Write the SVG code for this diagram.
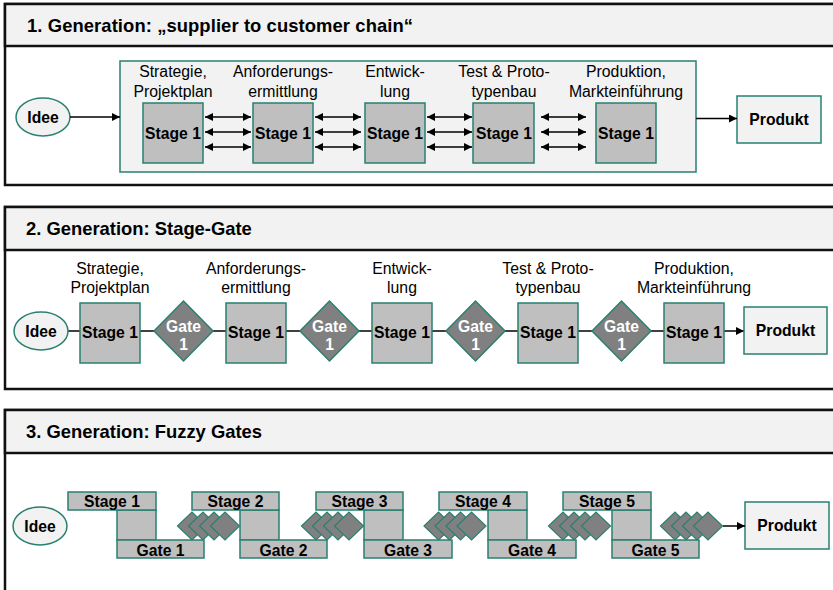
<svg xmlns="http://www.w3.org/2000/svg" width="833" height="590" viewBox="0 0 833 590">
  <defs>
    <marker id="head" viewBox="0 0 10 10" refX="10" refY="5" markerWidth="9" markerHeight="8" markerUnits="userSpaceOnUse" orient="auto-start-reverse">
      <path d="M0,0 L10,5 L0,10 Z" fill="#000"/>
    </marker>
    <path id="fdia" d="M-14.5,0 L0,-14 L14.5,0 L0,14 Z" class="fdiamond"/>
  </defs>
  <style>
    text { font-family: "Liberation Sans", Arial, sans-serif; fill: #000; }
    .title { font-size: 18.4px; font-weight: bold; }
    .lbl { font-size: 15.8px; text-anchor: middle; }
    .b { font-size: 15.7px; font-weight: bold; text-anchor: middle; }
    .gw { font-size: 15.7px; font-weight: bold; text-anchor: middle; fill: #fff; }
    .frame { fill: #fff; stroke: #111; stroke-width: 2.5; }
    .head { fill: #f2f2f2; stroke: #111; stroke-width: 2.5; }
    .stage { fill: #bfbfbf; stroke: #2a8070; stroke-width: 1.5; }
    .pale { fill: #f2f2f2; stroke: #2a8070; stroke-width: 1.5; }
    .diamond { fill: #808080; stroke: #2a8070; stroke-width: 1.5; }
    .fdiamond { fill: #808080; stroke: #2a8070; stroke-width: 1.2; }
    .arrow { stroke: #000; stroke-width: 1.5; fill: none; }
    .link { stroke: #404040; stroke-width: 2; fill: none; }
  </style>

  <!-- ===== Panel 1: supplier to customer chain ===== -->
  <g id="panel1">
    <rect class="frame" x="5" y="4" width="840" height="181"/>
    <rect class="head" x="5" y="4" width="840" height="42"/>
    <text class="title" x="27" y="32" textLength="386" lengthAdjust="spacing">1. Generation: „supplier to customer chain“</text>
  </g>
  <g id="p1-chain">
    <rect class="pale" x="120" y="61" width="576" height="111"/>
  </g>
  <g id="p1-idee">
    <ellipse class="pale" cx="43" cy="117" rx="27" ry="19"/>
    <text class="b" x="43" y="122.5">Idee</text>
  </g>
  <g id="p1-stage1">
    <text class="lbl" x="173" y="77">Strategie,</text>
    <text class="lbl" x="173" y="97">Projektplan</text>
    <rect class="stage" x="143" y="103" width="60" height="60"/>
    <text class="b" x="173" y="139">Stage 1</text>
  </g>
  <g id="p1-stage2">
    <text class="lbl" x="283" y="77">Anforderungs-</text>
    <text class="lbl" x="283" y="97">ermittlung</text>
    <rect class="stage" x="253" y="103" width="60" height="60"/>
    <text class="b" x="283" y="139">Stage 1</text>
  </g>
  <g id="p1-stage3">
    <text class="lbl" x="395" y="77">Entwick-</text>
    <text class="lbl" x="395" y="97">lung</text>
    <rect class="stage" x="365" y="103" width="60" height="60"/>
    <text class="b" x="395" y="139">Stage 1</text>
  </g>
  <g id="p1-stage4">
    <text class="lbl" x="504" y="77">Test &amp; Proto-</text>
    <text class="lbl" x="504" y="97">typenbau</text>
    <rect class="stage" x="473" y="103" width="61" height="60"/>
    <text class="b" x="504" y="139">Stage 1</text>
  </g>
  <g id="p1-stage5">
    <text class="lbl" x="626" y="77">Produktion,</text>
    <text class="lbl" x="626" y="97">Markteinführung</text>
    <rect class="stage" x="596" y="103" width="60" height="60"/>
    <text class="b" x="626" y="139">Stage 1</text>
  </g>
  <g id="p1-produkt">
    <rect class="pale" x="737" y="96" width="84" height="47"/>
    <text class="b" x="779" y="125">Produkt</text>
  </g>
  <g id="p1-connectors">
    <line class="arrow" x1="70" y1="117" x2="120" y2="117" marker-end="url(#head)"/>
    <line class="arrow" x1="696" y1="118.5" x2="737" y2="118.5" marker-end="url(#head)"/>
    <!-- two-way exchange between neighbouring stages -->
    <g marker-start="url(#head)" marker-end="url(#head)">
      <line class="arrow" x1="205" y1="117" x2="251" y2="117" marker-start="url(#head)" marker-end="url(#head)"/>
      <line class="arrow" x1="205" y1="132" x2="251" y2="132" marker-start="url(#head)" marker-end="url(#head)"/>
      <line class="arrow" x1="205" y1="147" x2="251" y2="147" marker-start="url(#head)" marker-end="url(#head)"/>
      <line class="arrow" x1="315" y1="117" x2="361" y2="117" marker-start="url(#head)" marker-end="url(#head)"/>
      <line class="arrow" x1="315" y1="132" x2="361" y2="132" marker-start="url(#head)" marker-end="url(#head)"/>
      <line class="arrow" x1="315" y1="147" x2="361" y2="147" marker-start="url(#head)" marker-end="url(#head)"/>
      <line class="arrow" x1="427" y1="117" x2="472" y2="117" marker-start="url(#head)" marker-end="url(#head)"/>
      <line class="arrow" x1="427" y1="132" x2="472" y2="132" marker-start="url(#head)" marker-end="url(#head)"/>
      <line class="arrow" x1="427" y1="147" x2="472" y2="147" marker-start="url(#head)" marker-end="url(#head)"/>
      <line class="arrow" x1="541" y1="117" x2="586" y2="117" marker-start="url(#head)" marker-end="url(#head)"/>
      <line class="arrow" x1="541" y1="132" x2="586" y2="132" marker-start="url(#head)" marker-end="url(#head)"/>
      <line class="arrow" x1="541" y1="147" x2="586" y2="147" marker-start="url(#head)" marker-end="url(#head)"/>
    </g>
  </g>

  <!-- ===== Panel 2: Stage-Gate ===== -->
  <g id="panel2">
    <rect class="frame" x="5" y="207" width="840" height="182"/>
    <rect class="head" x="5" y="207" width="840" height="43"/>
    <text class="title" x="26" y="235">2. Generation: Stage-Gate</text>
  </g>
  <g id="p2-connectors">
    <line class="link" x1="68" y1="331" x2="724" y2="331"/>
    <line class="arrow" x1="724" y1="331" x2="744" y2="331" marker-end="url(#head)"/>
  </g>
  <g id="p2-idee">
    <ellipse class="pale" cx="41" cy="331" rx="27" ry="19"/>
    <text class="b" x="41" y="336.5">Idee</text>
  </g>
  <g id="p2-stage1">
    <text class="lbl" x="110" y="274">Strategie,</text>
    <text class="lbl" x="110" y="293">Projektplan</text>
    <rect class="stage" x="80" y="303" width="60" height="60"/>
    <text class="b" x="110" y="338">Stage 1</text>
  </g>
  <g id="p2-gate1">
    <path class="diamond" d="M154,331 L183.5,301 L213,331 L183.5,361 Z"/>
    <text class="gw" x="183.5" y="332">Gate</text>
    <text class="gw" x="183.5" y="350">1</text>
  </g>
  <g id="p2-stage2">
    <text class="lbl" x="256" y="274">Anforderungs-</text>
    <text class="lbl" x="256" y="293">ermittlung</text>
    <rect class="stage" x="226" y="303" width="60" height="60"/>
    <text class="b" x="256" y="338">Stage 1</text>
  </g>
  <g id="p2-gate2">
    <path class="diamond" d="M300,331 L329.5,301 L359,331 L329.5,361 Z"/>
    <text class="gw" x="329.5" y="332">Gate</text>
    <text class="gw" x="329.5" y="350">1</text>
  </g>
  <g id="p2-stage3">
    <text class="lbl" x="402" y="274">Entwick-</text>
    <text class="lbl" x="402" y="293">lung</text>
    <rect class="stage" x="372" y="303" width="60" height="60"/>
    <text class="b" x="402" y="338">Stage 1</text>
  </g>
  <g id="p2-gate3">
    <path class="diamond" d="M446,331 L475.5,301 L505,331 L475.5,361 Z"/>
    <text class="gw" x="475.5" y="332">Gate</text>
    <text class="gw" x="475.5" y="350">1</text>
  </g>
  <g id="p2-stage4">
    <text class="lbl" x="548" y="274">Test &amp; Proto-</text>
    <text class="lbl" x="548" y="293">typenbau</text>
    <rect class="stage" x="518" y="303" width="60" height="60"/>
    <text class="b" x="548" y="338">Stage 1</text>
  </g>
  <g id="p2-gate4">
    <path class="diamond" d="M592,331 L621.5,301 L651,331 L621.5,361 Z"/>
    <text class="gw" x="621.5" y="332">Gate</text>
    <text class="gw" x="621.5" y="350">1</text>
  </g>
  <g id="p2-stage5">
    <text class="lbl" x="694" y="274">Produktion,</text>
    <text class="lbl" x="694" y="293">Markteinführung</text>
    <rect class="stage" x="664" y="303" width="60" height="60"/>
    <text class="b" x="694" y="338">Stage 1</text>
  </g>
  <g id="p2-produkt">
    <rect class="pale" x="744" y="307" width="83" height="47"/>
    <text class="b" x="785.5" y="336">Produkt</text>
  </g>

  <!-- ===== Panel 3: Fuzzy Gates ===== -->
  <g id="panel3">
    <rect class="frame" x="5" y="410" width="840" height="200"/>
    <rect class="head" x="5" y="410" width="840" height="43"/>
    <text class="title" x="26" y="438">3. Generation: Fuzzy Gates</text>
  </g>
  <g id="p3-idee">
    <ellipse class="pale" cx="40" cy="526" rx="27" ry="19"/>
    <text class="b" x="40" y="531.5">Idee</text>
  </g>
  <g id="p3-stage1">
    <rect class="stage" x="117" y="510" width="39" height="30"/>
    <rect class="stage" x="68" y="492" width="88" height="18"/>
    <text class="b" x="112" y="507">Stage 1</text>
    <rect class="stage" x="117" y="540" width="87" height="18"/>
    <text class="b" x="160.5" y="556">Gate 1</text>
  </g>
  <g id="p3-fuzzy1">
    <use href="#fdia" x="192" y="526"/><use href="#fdia" x="203" y="526"/>
    <use href="#fdia" x="214" y="526"/><use href="#fdia" x="225" y="526"/>
  </g>
  <g id="p3-stage2">
    <rect class="stage" x="240" y="510" width="39" height="30"/>
    <rect class="stage" x="192" y="492" width="87" height="18"/>
    <text class="b" x="235.5" y="507">Stage 2</text>
    <rect class="stage" x="240" y="540" width="87" height="18"/>
    <text class="b" x="283.5" y="556">Gate 2</text>
  </g>
  <g id="p3-fuzzy2">
    <use href="#fdia" x="316" y="526"/><use href="#fdia" x="327" y="526"/>
    <use href="#fdia" x="338" y="526"/><use href="#fdia" x="349" y="526"/>
  </g>
  <g id="p3-stage3">
    <rect class="stage" x="364" y="510" width="39" height="30"/>
    <rect class="stage" x="316" y="492" width="87" height="18"/>
    <text class="b" x="359.5" y="507">Stage 3</text>
    <rect class="stage" x="364" y="540" width="88" height="18"/>
    <text class="b" x="408" y="556">Gate 3</text>
  </g>
  <g id="p3-fuzzy3">
    <use href="#fdia" x="438.5" y="526"/><use href="#fdia" x="449.5" y="526"/>
    <use href="#fdia" x="460.5" y="526"/><use href="#fdia" x="471.5" y="526"/>
  </g>
  <g id="p3-stage4">
    <rect class="stage" x="488" y="510" width="39" height="30"/>
    <rect class="stage" x="439" y="492" width="88" height="18"/>
    <text class="b" x="483" y="507">Stage 4</text>
    <rect class="stage" x="488" y="540" width="88" height="18"/>
    <text class="b" x="532" y="556">Gate 4</text>
  </g>
  <g id="p3-fuzzy4">
    <use href="#fdia" x="563" y="526"/><use href="#fdia" x="574" y="526"/>
    <use href="#fdia" x="585" y="526"/><use href="#fdia" x="596" y="526"/>
  </g>
  <g id="p3-stage5">
    <rect class="stage" x="612" y="510" width="39" height="30"/>
    <rect class="stage" x="563" y="492" width="88" height="18"/>
    <text class="b" x="607" y="507">Stage 5</text>
    <rect class="stage" x="612" y="540" width="87" height="18"/>
    <text class="b" x="655.5" y="556">Gate 5</text>
  </g>
  <g id="p3-fuzzy5">
    <use href="#fdia" x="675" y="526"/><use href="#fdia" x="686" y="526"/>
    <use href="#fdia" x="697" y="526"/><use href="#fdia" x="708" y="526"/>
  </g>
  <g id="p3-produkt">
    <rect class="pale" x="745" y="502" width="84" height="47"/>
    <text class="b" x="787" y="531">Produkt</text>
  </g>
  <g id="p3-connectors">
    <line class="arrow" x1="723" y1="526" x2="745" y2="526" marker-end="url(#head)"/>
  </g>
</svg>
